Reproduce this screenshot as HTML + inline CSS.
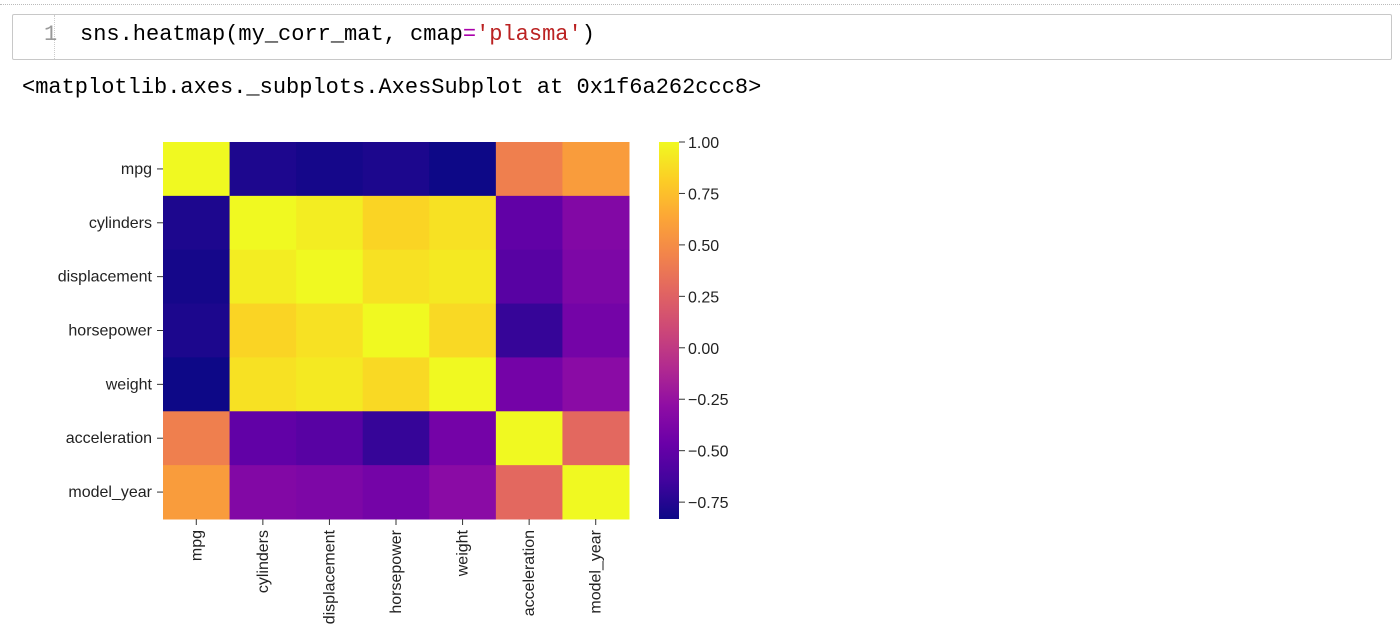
<!DOCTYPE html>
<html><head><meta charset="utf-8"><style>
body{margin:0;background:#fff;width:1400px;height:638px;overflow:hidden;position:relative;font-family:"Liberation Sans",sans-serif}
.mono{font-family:"Liberation Mono",monospace;font-size:22px;position:absolute;white-space:pre}
</style></head><body>
<div style="position:absolute;left:0;top:4px;width:1400px;border-top:1px dotted #bbb"></div>
<div style="position:absolute;left:12px;top:14px;width:1378px;height:44px;border:1px solid #c8c8c8;border-radius:2px;background:#fff"></div>
<div style="position:absolute;left:54px;top:15px;height:44px;border-left:1px dotted #ccc"></div>
<div class="mono" style="left:44px;top:22px;color:#999">1</div>
<div class="mono" style="left:80px;top:22px;color:#000">sns.heatmap(my_corr_mat, cmap<span style="color:#a0a">=</span><span style="color:#b22">'plasma'</span>)</div>
<div class="mono" style="left:22px;top:75px;color:#000">&lt;matplotlib.axes._subplots.AxesSubplot at 0x1f6a262ccc8&gt;</div>
<svg id="chart" width="1400" height="638" style="position:absolute;left:0;top:0" font-family="Liberation Sans, DejaVu Sans, sans-serif" font-size="16" fill="#222"></svg>
<script>
const labels=["mpg","cylinders","displacement","horsepower","weight","acceleration","model_year"];
const corr=[
[1,-0.776,-0.805,-0.778,-0.832,0.423,0.581],
[-0.776,1,0.951,0.843,0.897,-0.505,-0.346],
[-0.805,0.951,1,0.897,0.933,-0.544,-0.370],
[-0.778,0.843,0.897,1,0.865,-0.689,-0.416],
[-0.832,0.897,0.933,0.865,1,-0.417,-0.309],
[0.423,-0.505,-0.544,-0.689,-0.417,1,0.290],
[0.581,-0.346,-0.370,-0.416,-0.309,0.290,1]];
const cbTicks=[1.00,0.75,0.50,0.25,0.00,-0.25,-0.50,-0.75];
const stops=["#0d0887","#41049d","#6a00a8","#8f0da4","#b12a90","#cc4778","#e16462","#f2844b","#fca636","#fcce25","#f0f921"];
const svg=document.getElementById('chart');const NS="http://www.w3.org/2000/svg";
function mk(t,a,p){const e=document.createElementNS(NS,t);for(const k in a)e.setAttribute(k,a[k]);(p||svg).appendChild(e);return e;}
const vmin=Math.min(...corr.flat()),vmax=Math.max(...corr.flat());
function hex(h){return [1,3,5].map(i=>parseInt(h.substr(i,2),16));}
function plasma(t){t=Math.max(0,Math.min(1,t));const s=t*10,i=Math.min(9,Math.floor(s)),f=s-i;const a=hex(stops[i]),b=hex(stops[i+1]);return `rgb(${a.map((v,k)=>Math.round(v+(b[k]-v)*f)).join(',')})`;}
const X0=163,X1=629,Y0=142,Y1=519,n=labels.length,cw=(X1-X0)/n,ch=(Y1-Y0)/n;
const xs=i=>X0+i*cw, ys=i=>Y0+i*ch;
corr.forEach((row,r)=>row.forEach((v,c)=>{
 const e=mk('rect',{x:xs(c),y:ys(r),width:cw+0.5,height:ch+0.5,fill:plasma((v-vmin)/(vmax-vmin))});
 
 
}));
labels.forEach((l,i)=>{
 const t=mk('text',{x:X0-11,y:ys(i)+ch/2+5,'text-anchor':'end'});t.textContent=l;
 
 
 mk('line',{x1:X0-6,x2:X0,y1:ys(i)+ch/2,y2:ys(i)+ch/2,stroke:'#333'});
 const cx=xs(i)+cw/2;
 const u=mk('text',{x:0,y:0,'text-anchor':'end',transform:`translate(${cx+5},${Y1+11}) rotate(-90)`});u.textContent=l;
 
 
 mk('line',{x1:cx,x2:cx,y1:Y1,y2:Y1+6,stroke:'#333'});
});
const CX=659,CW=20;
const g=mk('linearGradient',{id:'cb',x1:0,y1:1,x2:0,y2:0},mk('defs',{}));
for(let i=0;i<=10;i++)mk('stop',{offset:i/10,'stop-color':stops[i]},g);
const cb=mk('rect',{x:CX,y:Y0,width:CW,height:Y1-Y0,fill:'url(#cb)'});


const cy=v=>Y1-(v-vmin)/(vmax-vmin)*(Y1-Y0);
cbTicks.forEach(v=>{
 const y=cy(v);
 mk('line',{x1:CX+CW,x2:CX+CW+6,y1:y,y2:y,stroke:'#333'});
 const t=mk('text',{x:CX+CW+9,y:y+6});t.textContent=(v<0?'\u2212':'')+Math.abs(v).toFixed(2);
 
 
});
</script>
</body></html>
